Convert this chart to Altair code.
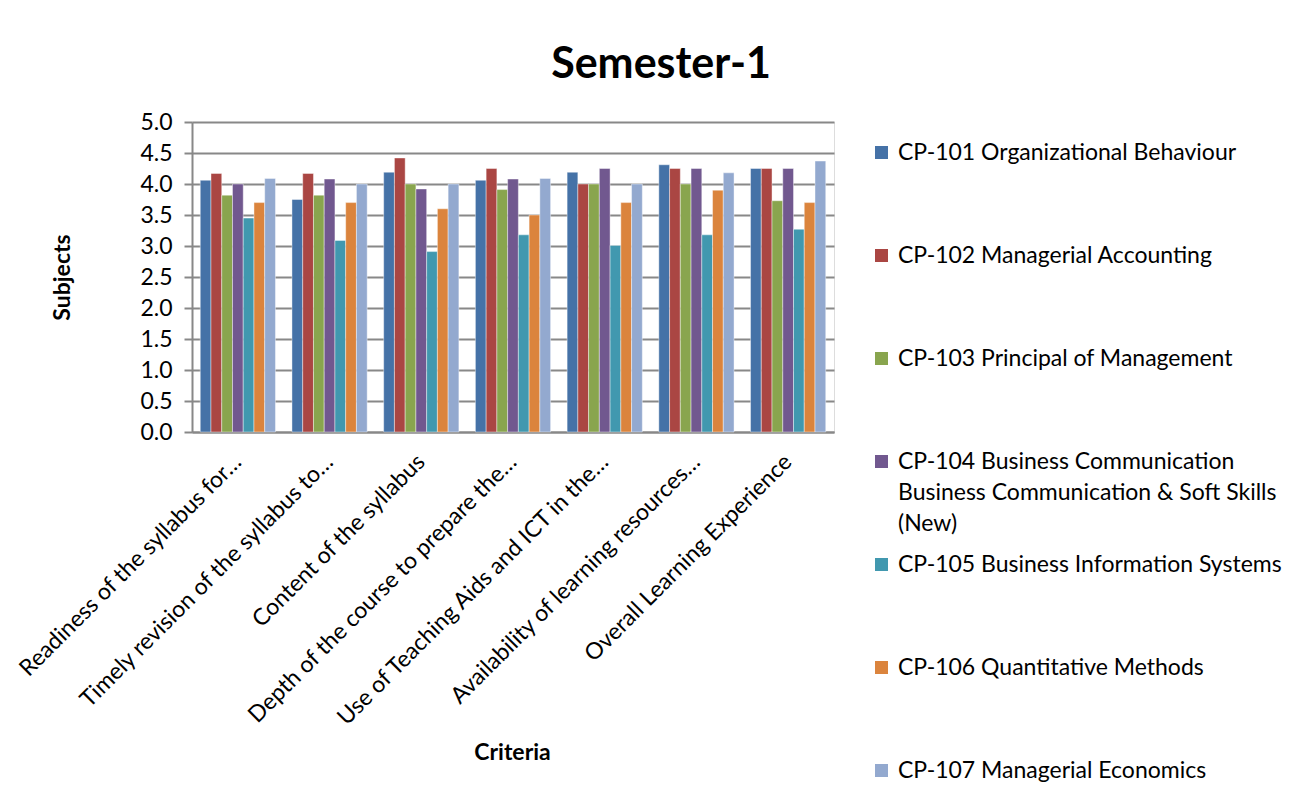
import altair as alt
import pandas as pd

categories = [
    "Readiness of the syllabus for…",
    "Timely revision of the syllabus to…",
    "Content of the syllabus",
    "Depth of the course to prepare the…",
    "Use of Teaching Aids and ICT in the…",
    "Availability of learning resources…",
    "Overall Learning Experience",
]

subjects = [
    "CP-101 Organizational Behaviour",
    "CP-102 Managerial Accounting",
    "CP-103 Principal of Management",
    "CP-104 Business Communication\nBusiness Communication & Soft Skills\n(New)",
    "CP-105 Business Information Systems",
    "CP-106 Quantitative Methods",
    "CP-107 Managerial Economics",
]

cp101 = [4.06, 3.75, 4.19, 4.06, 4.19, 4.31, 4.25]
cp102 = [4.17, 4.17, 4.42, 4.25, 4.00, 4.25, 4.25]
cp103 = [3.82, 3.82, 4.00, 3.91, 4.00, 4.00, 3.73]
cp104 = [4.00, 4.08, 3.92, 4.08, 4.25, 4.25, 4.25]
cp105 = [3.45, 3.09, 2.91, 3.18, 3.01, 3.18, 3.27]
cp106 = [3.70, 3.70, 3.60, 3.50, 3.70, 3.90, 3.70]
cp107 = [4.09, 4.00, 4.00, 4.09, 4.00, 4.18, 4.37]

series = [cp101, cp102, cp103, cp104, cp105, cp106, cp107]
colors = ["#4572A7", "#AA4643", "#89A54E", "#71588F", "#4198AF", "#DB843D", "#93A9CF"]
y_ticks = [0.0, 0.5, 1.0, 1.5, 2.0, 2.5, 3.0, 3.5, 4.0, 4.5, 5.0]

rows = []
for subj, vals in zip(subjects, series):
    for cat, v in zip(categories, vals):
        rows.append({"criterion": cat, "subject": subj, "value": v})
df = pd.DataFrame(rows)

FONT = "Lato"
GRAY = "#888888"

chart = (
    alt.Chart(df)
    .mark_bar(stroke="white", strokeWidth=0.6, strokeOpacity=0.7)
    .encode(
        x=alt.X(
            "criterion:N",
            sort=categories,
            scale=alt.Scale(paddingInner=0.18, paddingOuter=0.09),
            axis=alt.Axis(
                title="Criteria",
                labelAngle=-45,
                labelAlign="right",
                labelBaseline="middle",
                labelPadding=26,
                labelFontSize=23,
                labelLimit=500,
                labelColor="black",
                labelFont=FONT,
                titleFont=FONT,
                titleFontSize=23,
                titleFontWeight="bold",
                titleColor="black",
                titleX=320,
                titleY=320,
                titleBaseline="middle",
                domainColor=GRAY,
                domainWidth=2,
                ticks=False,
            ),
        ),
        xOffset=alt.XOffset("subject:N", sort=subjects),
        y=alt.Y(
            "value:Q",
            scale=alt.Scale(domain=[0, 5]),
            axis=alt.Axis(
                title="Subjects",
                values=y_ticks,
                format=".1f",
                labelFontSize=23,
                labelFont=FONT,
                labelColor="black",
                labelPadding=12,
                titleFont=FONT,
                titleFontSize=23,
                titleFontWeight="bold",
                titleColor="black",
                titleX=-130,
                titleY=155,
                titleAngle=-90,
                titleBaseline="middle",
                titleAlign="center",
                domainColor=GRAY,
                domainWidth=2,
                tickColor=GRAY,
                tickSize=8,
                tickWidth=2,
                gridColor=GRAY,
                gridWidth=2,
            ),
        ),
        color=alt.Color(
            "subject:N",
            sort=subjects,
            scale=alt.Scale(domain=subjects, range=colors),
            legend=alt.Legend(
                title=None,
                orient="none",
                legendX=678,
                legendY=19,
                symbolType="square",
                symbolSize=169,
                symbolStrokeWidth=0,
                labelFont=FONT,
                labelFontSize=23,
                labelColor="black",
                labelLimit=500,
                labelOffset=5,
                rowPadding=17,
                gridAlign="all",
                labelExpr="split(datum.label, '\\n')",
            ),
        ),
    )
    .properties(
        width=642,
        height=310,
        title=alt.TitleParams(
            "Semester-1",
            font=FONT,
            fontSize=43,
            fontWeight="bold",
            color="black",
            anchor="middle",
            dx=148,
            offset=24,
        ),
        autosize=alt.AutoSizeParams(type="none"),
        padding={"left": 184, "top": 114, "right": 458, "bottom": 352},
    )
    .configure_view(stroke=None)
    .configure(background="white", style={"guide-label": {"lineHeight": 31}})
)

chart.save("out.html", embed_options={"renderer": "svg", "actions": False})
